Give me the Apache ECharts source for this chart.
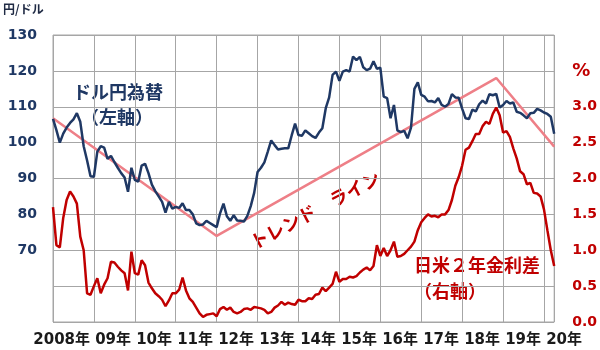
<!DOCTYPE html>
<html><head><meta charset="utf-8">
<script src="https://cdn.jsdelivr.net/npm/echarts/dist/echarts.min.js"></script>
<style>html,body{margin:0;padding:0;background:#fff}#c{width:600px;height:350px}</style>
</head><body><div id="c"></div>
<script>
// Year labels (placed at the January gridline that closes each year)
const yearLabels = ['', '2008年', '09年', '10年', '11年', '12年', '13年', '14年', '15年', '16年', '17年', '18年', '19年', '20年'];

// USD/JPY month-end, Jan 2008 .. Apr 2020 (left axis, 円/ドル)
const usdJpy = [
  106.6, 103.5, 100.0, 102.5, 104.2, 105.5, 106.5, 108.2, 105.8, 99.0, 95.0, 90.6,
  90.5, 97.5, 99.0, 98.6, 95.5, 96.3, 94.6, 93.0, 91.5, 90.3, 86.3, 93.0,
  89.6, 89.1, 93.6, 94.1, 91.5, 88.3, 86.5, 85.0, 83.5, 80.5, 83.5, 81.6,
  82.1, 81.8, 83.1, 81.2, 81.2, 80.0, 77.5, 77.0, 77.2, 78.2, 77.6, 77.0,
  76.4, 80.3, 83.0, 79.5, 78.2, 79.8, 78.3, 78.2, 78.0, 79.6, 82.3, 86.0,
  91.8, 93.0, 94.5, 97.5, 100.6, 99.3, 98.1, 98.3, 98.4, 98.4, 102.0, 105.3,
  102.1, 101.9, 103.4, 102.6, 101.8, 101.3, 102.8, 104.0, 109.6, 112.6, 118.9, 119.8,
  117.2, 119.8, 120.2, 119.8, 124.0, 123.0, 123.9, 121.0, 120.2, 120.6, 122.7, 120.6,
  120.9, 112.8, 112.4, 106.8, 110.5, 103.4, 102.9, 103.3, 101.2, 104.2, 115.0, 116.8,
  113.3, 112.8, 111.5, 111.6, 111.2, 112.4, 110.5, 110.0, 110.8, 113.5, 112.6, 112.5,
  109.5, 106.8, 106.6, 109.2, 108.7, 110.7, 111.7, 110.9, 113.5, 113.2, 113.6, 109.8,
  110.5, 111.6, 110.9, 111.2, 108.6, 108.3, 107.6, 106.8, 108.2, 108.3, 109.4, 109.0,
  108.4, 108.0, 107.2, 102.5
];

// Japan-US 2-year rate spread, % (right axis)
const rateDiff = [
  1.60, 1.07, 1.04, 1.45, 1.70, 1.82, 1.75, 1.65, 1.19, 1.00, 0.40, 0.38,
  0.50, 0.61, 0.40, 0.52, 0.61, 0.84, 0.83, 0.77, 0.72, 0.68, 0.44, 0.98,
  0.68, 0.66, 0.86, 0.79, 0.55, 0.47, 0.40, 0.36, 0.31, 0.22, 0.30, 0.40,
  0.40, 0.45, 0.62, 0.44, 0.33, 0.28, 0.20, 0.12, 0.07, 0.10, 0.11, 0.12,
  0.08, 0.18, 0.21, 0.17, 0.20, 0.14, 0.12, 0.14, 0.18, 0.19, 0.17, 0.21,
  0.20, 0.19, 0.17, 0.12, 0.14, 0.20, 0.23, 0.28, 0.24, 0.27, 0.25, 0.24,
  0.31, 0.29, 0.29, 0.33, 0.32, 0.38, 0.39, 0.48, 0.43, 0.48, 0.53, 0.70,
  0.56, 0.60, 0.60, 0.63, 0.62, 0.64, 0.69, 0.73, 0.76, 0.72, 0.78, 1.07,
  0.92, 1.03, 0.92, 1.00, 1.12, 0.91, 0.92, 0.95, 1.00, 1.05, 1.12, 1.28,
  1.39, 1.45, 1.50, 1.47, 1.48, 1.46, 1.50, 1.50, 1.56, 1.70, 1.90, 2.02,
  2.18, 2.40, 2.43, 2.52, 2.62, 2.62, 2.73, 2.79, 2.76, 2.90, 2.99, 2.88,
  2.64, 2.66, 2.58, 2.42, 2.28, 2.10, 2.06, 1.92, 1.94, 1.80, 1.79, 1.75,
  1.57, 1.28, 1.00, 0.78
];

// Trend line vertices (month index from Jan 2008, USD/JPY level)
const trendMonths = [0, 48, 130, 147];
const trendValues = [106.8, 74.0, 118.0, 98.9];

const NAVY = '#1F3864', RED = '#C00000', GRIDC = '#A6A6A6', PINK = '#EE7F87';
const FONT = '"DejaVu Sans", "Noto Sans CJK JP", sans-serif';
const JFONT = '"Noto Sans CJK JP", sans-serif';

const chart = echarts.init(document.getElementById('c'), null, {renderer: 'canvas'});
chart.setOption({
  animation: false,
  grid: [
    {left: 53, right: 45, top: 35, bottom: 28, show: true, borderColor: GRIDC, borderWidth: 1},
    {left: 53, right: 14, top: 35, bottom: 28, show: false}
  ],
  xAxis: [
    {type: 'value', gridIndex: 0, min: 0, max: usdJpy.length - 1, interval: 12,
     axisLine: {show: false}, axisTick: {show: false}, axisLabel: {show: false},
     splitLine: {show: true, lineStyle: {color: GRIDC, width: 1}}},
    {type: 'category', gridIndex: 1, data: yearLabels, boundaryGap: false,
     axisLine: {show: false}, axisTick: {show: false}, splitLine: {show: false},
     axisLabel: {interval: 0, align: 'right', margin: 11, padding: [0, 4, 0, 0],
       color: '#1a1a1a', fontSize: 15, fontWeight: 'bold', fontFamily: FONT}}
  ],
  yAxis: [
    {type: 'value', gridIndex: 0, min: 50, max: 130, interval: 10, position: 'left',
     axisLine: {show: false}, axisTick: {show: false},
     splitLine: {show: true, lineStyle: {color: GRIDC, width: 1}},
     axisLabel: {margin: 16, color: NAVY, fontSize: 14, fontWeight: 'bold', fontFamily: FONT,
       formatter: v => v >= 70 ? String(v) : ''}},
    {type: 'value', gridIndex: 0, min: 0, max: 4, interval: 0.5, position: 'right',
     axisLine: {show: false}, axisTick: {show: false}, splitLine: {show: false},
     axisLabel: {margin: 18, color: RED, fontSize: 14, fontWeight: 'bold', fontFamily: FONT,
       formatter: v => Math.abs(v - 3.5) < 1e-6 ? '{p|%}' : (v > 3.6 ? '' : v.toFixed(1)),
       rich: {p: {fontSize: 18, fontWeight: 'bold', color: RED, fontFamily: FONT}}}},
    {type: 'value', gridIndex: 1, show: false}
  ],
  series: [
    {type: 'line', name: 'trend', xAxisIndex: 0, yAxisIndex: 0, symbol: 'none', z: 1,
     data: trendMonths.map((m, i) => [m, trendValues[i]]),
     lineStyle: {color: PINK, width: 2.5}},
    {type: 'line', name: 'usdjpy', xAxisIndex: 0, yAxisIndex: 0, symbol: 'none', z: 3,
     data: usdJpy.map((v, i) => [i, v]),
     lineStyle: {color: NAVY, width: 2.5}},
    {type: 'line', name: 'spread', xAxisIndex: 0, yAxisIndex: 1, symbol: 'none', z: 2,
     data: rateDiff.map((v, i) => [i, v]),
     lineStyle: {color: RED, width: 2.5}}
  ],
  graphic: [
    {type: 'text', x: 3, y: 3, style: {text: '円/ドル', fill: '#1F2A44', font: 'bold 12px ' + JFONT}},
    {type: 'text', x: 118, y: 92, style: {text: 'ドル円為替', fill: NAVY, font: 'bold 18px ' + JFONT, align: 'center', verticalAlign: 'middle'}},
    {type: 'text', x: 117, y: 117, style: {text: '（左軸）', fill: NAVY, font: 'bold 18px ' + JFONT, align: 'center', verticalAlign: 'middle'}},
    {type: 'text', x: 315, y: 210, rotation: 28 * Math.PI / 180,
     style: {text: 'トレンド　ライン', fill: RED, font: 'bold 18px ' + JFONT, align: 'center', verticalAlign: 'middle'}},
    {type: 'text', x: 414, y: 265, style: {text: '日米２年金利差', fill: RED, font: 'bold 18px ' + JFONT, align: 'left', verticalAlign: 'middle'}},
    {type: 'text', x: 414, y: 291, style: {text: '（右軸）', fill: RED, font: 'bold 18px ' + JFONT, align: 'left', verticalAlign: 'middle'}}
  ]
});
</script>
</body></html>
